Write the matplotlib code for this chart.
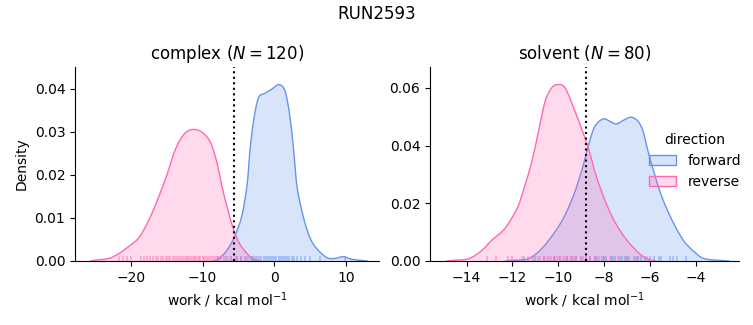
import numpy as np
import matplotlib
matplotlib.use("Agg")
import matplotlib.pyplot as plt
from matplotlib.patches import Patch, PathPatch
from matplotlib.path import Path

# ---------------- data ----------------
title = "RUN2593"
panels = ["complex", "solvent"]
panel_n = [120, 80]
directions = ["forward", "reverse"]
colors = {"forward": "#6495ED", "reverse": "#FF69B4"}

# complex: density curves
cx_rev_x = [-25.6, -25.0, -23.1, -21.7, -20.3, -18.9, -17.5, -16.1, -14.9, -13.8, -12.6, -11.4,
            -10.1, -8.9, -8.0, -7.3, -6.6, -5.9, -5.0, -4.0, -3.1, -2.4, -1.8]
cx_rev_y = [0.0, 0.0002, 0.0006, 0.0017, 0.0034, 0.0054, 0.0095, 0.0150, 0.0204, 0.0259, 0.0294, 0.0305,
            0.0299, 0.0275, 0.0228, 0.0173, 0.0127, 0.0084, 0.0045, 0.0021, 0.0006, 0.0001, 0.0]
cx_fwd_x = [-8.6, -8.0, -6.6, -5.4, -4.5, -3.8, -3.4, -2.9, -2.2, -1.3, -0.4, 0.64, 1.5, 2.2, 2.7,
            3.2, 4.1, 5.0, 5.9, 7.3, 8.5, 9.6, 10.8, 12.4, 13.0]
cx_fwd_y = [0.0, 0.0002, 0.0025, 0.0062, 0.0107, 0.0177, 0.0255, 0.0325, 0.0379, 0.0389, 0.0398, 0.0409,
            0.0394, 0.0332, 0.0255, 0.0169, 0.0099, 0.0053, 0.0029, 0.0008, 0.0006, 0.0010, 0.0004, 0.0001, 0.0]
# solvent: density curves
sv_rev_x = [-14.9, -14.64, -13.91, -13.33, -12.9, -12.39, -12.03, -11.73, -11.45, -11.15, -10.86,
            -10.57, -10.28, -10.02, -9.70, -9.27, -8.98, -8.68, -8.40, -8.10, -7.81, -7.53, -7.16,
            -6.80, -6.36, -5.93, -5.7]
sv_rev_y = [0.0, 0.0002, 0.0008, 0.0037, 0.0072, 0.0107, 0.0148, 0.0194, 0.0263, 0.0345, 0.0449,
            0.0553, 0.0600, 0.0611, 0.0600, 0.0520, 0.0458, 0.0392, 0.0310, 0.0240, 0.0182, 0.0136, 0.0089,
            0.0054, 0.0020, 0.0002, 0.0]
sv_fwd_x = [-12.3, -12.03, -11.3, -10.72, -10.14, -9.70, -9.27, -8.90, -8.68, -8.40, -8.03, -7.74,
            -7.46, -7.09, -6.80, -6.51, -6.29, -6.07, -5.78, -5.50, -5.20, -4.84, -4.48, -4.04,
            -3.61, -2.73, -2.5]
sv_fwd_y = [0.0, 0.0002, 0.0008, 0.0043, 0.0101, 0.0159, 0.0240, 0.0333, 0.0400, 0.0466, 0.0492, 0.0484,
            0.0475, 0.0490, 0.0498, 0.0484, 0.0449, 0.0379, 0.0298, 0.0229, 0.0171, 0.0113, 0.0066, 0.0031,
            0.0008, 0.0001, 0.0]

# rug samples
cx_rev_rug = [-21.6, -21.1, -20.6, -20.0, -18.6, -18.2, -17.7, -17.3, -16.9, -16.5, -16.2, -15.8, -15.5,
              -15.1, -14.8, -14.5, -14.2, -13.9, -13.6, -13.3, -13.0, -12.8, -12.5, -12.2, -12.0, -11.7,
              -11.5, -11.2, -11.0, -10.8, -10.5, -10.3, -10.0, -9.8, -9.5, -9.2, -9.0, -8.7, -8.4, -8.1,
              -7.8, -7.4, -7.0, -6.5, -6.0, -5.4, -4.7, -3.9, -3.1]
cx_fwd_rug = [-7.9, -6.8, -6.0, -5.2, -4.6, -4.1, -3.7, -3.3, -3.0, -2.7, -2.4, -2.1, -1.8, -1.5, -1.2,
              -0.9, -0.6, -0.3, 0.0, 0.3, 0.6, 0.9, 1.2, 1.5, 1.8, 2.1, 2.4, 2.8, 3.2, 3.7, 4.3, 5.0, 6.4, 9.8]
sv_rev_rug = [-13.1, -12.7, -12.2, -12.0, -11.6, -11.3, -11.1, -10.9, -10.8, -10.6, -10.5, -10.4, -10.3,
              -10.2, -10.1, -10.0, -9.9, -9.8, -9.7, -9.6, -9.5, -9.4, -9.3, -9.2, -9.0, -8.9, -8.8,
              -8.6, -8.4, -8.2, -8.0, -7.7, -7.4, -7.0, -6.5, -6.1]
sv_fwd_rug = [-11.5, -11.0, -10.6, -10.2, -9.9, -9.6, -9.4, -9.2, -9.0, -8.8, -8.6, -8.4, -8.3, -8.1,
              -8.0, -7.9, -7.7, -7.6, -7.5, -7.3, -7.2, -7.1, -7.0, -6.9, -6.7, -6.6, -6.5, -6.4, -6.2,
              -6.0, -5.8, -5.6, -5.5, -5.1, -5.0, -4.8, -4.4]

vline_pos = [-5.58, -8.78]
xlims = [(-27.8, 14.6), (-15.6, -2.1)]
ylims = [(0, 0.045), (0, 0.0672)]
yticks = [[0, 0.01, 0.02, 0.03, 0.04], [0, 0.02, 0.04, 0.06]]
xticks = [[-20, -10, 0, 10], [-14, -12, -10, -8, -6, -4]]

curves = [
    {"forward": (cx_fwd_x, cx_fwd_y, cx_fwd_rug), "reverse": (cx_rev_x, cx_rev_y, cx_rev_rug)},
    {"forward": (sv_fwd_x, sv_fwd_y, sv_fwd_rug), "reverse": (sv_rev_x, sv_rev_y, sv_rev_rug)},
]


def smooth_path(xs, ys, closed=False):
    """Catmull-Rom through the points, drawn as cubic Bezier segments."""
    p = np.column_stack([xs, ys]).astype(float)
    n = len(p)
    verts = [p[0]]
    codes = [Path.MOVETO]
    for k in range(n - 1):
        p0 = p[k - 1] if k > 0 else p[k]
        p1, p2 = p[k], p[k + 1]
        p3 = p[k + 2] if k + 2 < n else p[k + 1]
        c1 = p1 + (p2 - p0) / 6.0
        c2 = p2 - (p3 - p1) / 6.0
        c1[1] = max(c1[1], 0.0)
        c2[1] = max(c2[1], 0.0)
        verts += [c1, c2, p2]
        codes += [Path.CURVE4] * 3
    if closed:
        verts += [[xs[-1], 0.0], [xs[0], 0.0], [xs[0], 0.0]]
        codes += [Path.LINETO, Path.LINETO, Path.CLOSEPOLY]
    return Path(verts, codes)


# ---------------- plot ----------------
fig = plt.figure(figsize=(7.53, 3.25), dpi=100)
W, H = 753, 325
boxes = [(75, 67, 379, 261), (430, 67, 739, 261)]

for i, (l, t, r, b) in enumerate(boxes):
    ax = fig.add_axes([l / W, 1 - b / H, (r - l) / W, (b - t) / H])
    for d in ["forward", "reverse"]:
        xs, ys, rug = curves[i][d]
        c = colors[d]
        ax.add_patch(PathPatch(smooth_path(xs, ys, closed=True), facecolor=c,
                               alpha=0.25, linewidth=0))
        ax.add_patch(PathPatch(smooth_path(xs, ys), facecolor="none",
                               edgecolor=c, linewidth=1))
        ax.vlines(rug, 0, 0.025, transform=ax.get_xaxis_transform(),
                  color=c, alpha=0.55, linewidth=1.1)
    ax.axvline(vline_pos[i], color="black", linestyle=":", linewidth=1.5)
    ax.set_xlim(*xlims[i])
    ax.set_ylim(*ylims[i])
    ax.set_xticks(xticks[i])
    ax.set_yticks(yticks[i])
    ax.yaxis.set_major_formatter(matplotlib.ticker.FormatStrFormatter("%.2f"))
    ax.spines["top"].set_visible(False)
    ax.spines["right"].set_visible(False)
    ax.set_xlabel(r"work / kcal mol$^{-1}$")
    ax.set_title(f"{panels[i]} ($N = {panel_n[i]}$)")
    if i == 0:
        ax.set_ylabel("Density")

fig.suptitle(title, y=0.985)

handles = [Patch(facecolor=matplotlib.colors.to_rgba(colors[d], 0.25),
                 edgecolor=colors[d], linewidth=1) for d in directions]
fig.legend(handles, directions, title="direction", frameon=False,
           loc="center left", bbox_to_anchor=(636 / W, 1 - 161 / H))

fig.savefig("out.png", dpi=100)
